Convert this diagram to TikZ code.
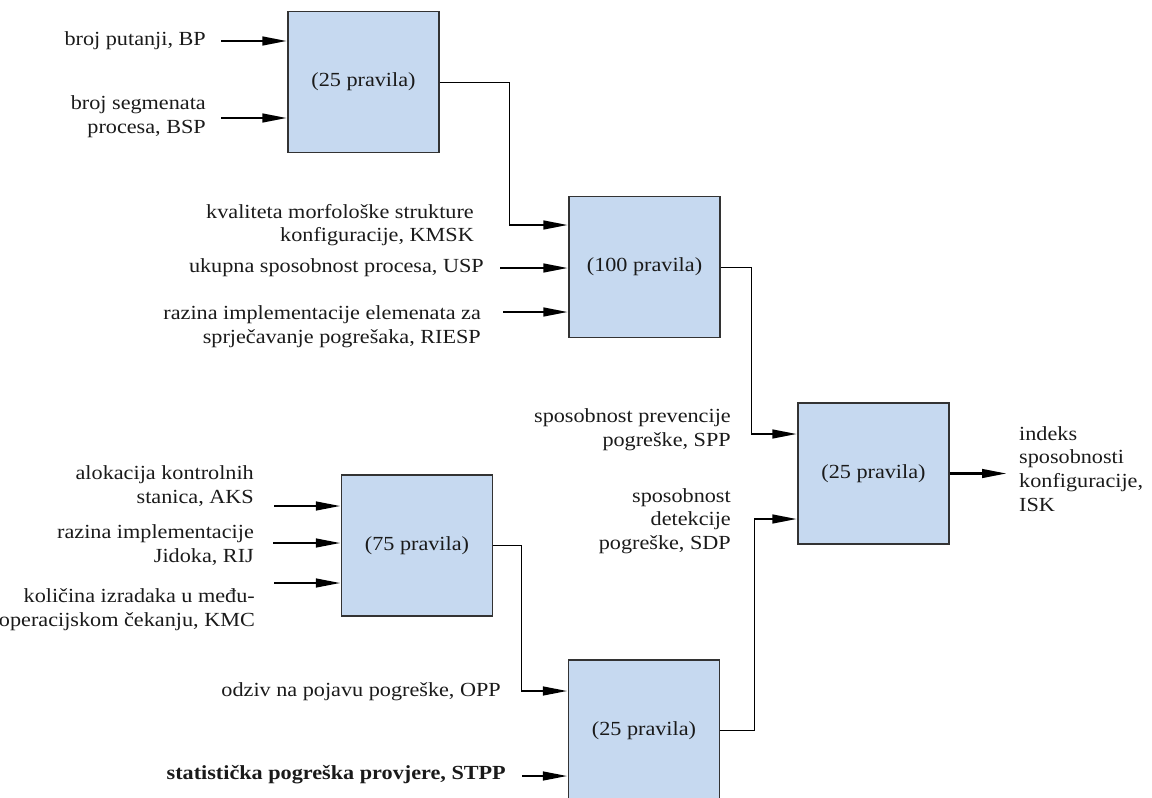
\documentclass[tikz,border=0pt]{standalone}
\usepackage{fontspec}
\setmainfont{Liberation Serif}[FakeStretch=1.11]
\usetikzlibrary{arrows.meta}
\definecolor{boxfill}{HTML}{C6D9F0}
\definecolor{boxline}{HTML}{333333}
\definecolor{ink}{HTML}{1A1A1A}
\begin{document}
\begin{tikzpicture}[x=1pt,y=-1pt,
  every node/.style={text=ink},
  txt/.style={font=\fontsize{20}{23.7}\selectfont, inner sep=0pt},
  lbl/.style={txt, align=right, anchor=east},
  rulebox/.style={txt, draw=boxline, line width=1.3pt, fill=boxfill,
    minimum width=151pt, minimum height=141pt},
  inarrow/.style={draw=black, line width=2.8pt,
    -{Triangle[length=25pt,width=8.5pt]}},
  wire/.style={draw=black, line width=0.9pt}]
\useasboundingbox (0,0) rectangle (1152,798);

% fuzzy rule blocks
\node[rulebox] (b1) at (363.5,82) {(25 pravila)};
\node[rulebox] (b2) at (644.5,267) {(100 pravila)};
\node[rulebox] (b3) at (873.5,473.5) {(25 pravila)};
\node[rulebox] (b4) at (417,545.5) {(75 pravila)};
\node[rulebox] (b5) at (644,730.5) {(25 pravila)};

% input labels
\node[lbl] (lbp) at (206,41) {broj putanji, BP};
\node[lbl] (lbsp) at (206,117) {broj segmenata\\procesa, BSP};
\node[lbl] (lkmsk) at (474,225) {kvaliteta morfološke strukture\\konfiguracije, KMSK};
\node[lbl] (lusp) at (484,268) {ukupna sposobnost procesa, USP};
\node[lbl] (lriesp) at (481,327) {razina implementacije elemenata za\\sprječavanje pogrešaka, RIESP};
\node[lbl] (lspp) at (731,430) {sposobnost prevencije\\pogreške, SPP};
\node[lbl] (lsdp) at (731,521) {sposobnost\\detekcije\\pogreške, SDP};
\node[lbl] (laks) at (254,486) {alokacija kontrolnih\\stanica, AKS};
\node[lbl] (lrij) at (254,545) {razina implementacije\\Jidoka, RIJ};
\node[lbl] (lkmc) at (255,610) {količina izradaka u među-\\operacijskom čekanju, KMC};
\node[lbl] (lopp) at (501,692) {odziv na pojavu pogreške, OPP};
\node[lbl, font=\fontsize{20}{23.7}\selectfont\bfseries] (lstpp) at (506,775) {statistička pogreška provjere, STPP};
\node[txt, align=left, anchor=west] (lisk) at (1019,469) {indeks\\sposobnosti\\konfiguracije,\\ISK};

% free ends of the input arrows
\coordinate (bp) at (221,41);
\coordinate (bsp) at (221,118);
\coordinate (usp) at (500,268);
\coordinate (riesp) at (503,312);
\coordinate (aks) at (274,506);
\coordinate (rij) at (273,543);
\coordinate (kmc) at (274,583);
\coordinate (stpp) at (522,776);

% bends of the block-to-block connectors
\coordinate (k12) at (509,225);
\coordinate (k23) at (751,434);
\coordinate (k45) at (521,691);
\coordinate (k53) at (754,519);
\coordinate (k3o) at (1007,473.5);

% inputs
\draw[inarrow] (bp) -- (b1.west |- bp);
\draw[inarrow] (bsp) -- (b1.west |- bsp);
\draw[inarrow] (usp) -- (b2.west |- usp);
\draw[inarrow] (riesp) -- (b2.west |- riesp);
\draw[inarrow] (aks) -- (b4.west |- aks);
\draw[inarrow] (rij) -- (b4.west |- rij);
\draw[inarrow] (kmc) -- (b4.west |- kmc);
\draw[inarrow] (stpp) -- (b5.west |- stpp);

% block 1 -> block 2
\draw[wire] (b1.east) -| (k12);
\draw[inarrow] (k12) -- (b2.west |- k12);
% block 2 -> block 3
\draw[wire] (b2.east) -| (k23);
\draw[inarrow] (k23) -- (b3.west |- k23);
% block 4 -> block 5
\draw[wire] (b4.east) -| (k45);
\draw[inarrow] (k45) -- (b5.west |- k45);
% block 5 -> block 3
\draw[wire] (b5.east) -| (k53);
\draw[inarrow] (k53) -- (b3.west |- k53);
% output
\draw[inarrow] (b3.east) -- (k3o);
\end{tikzpicture}
\end{document}
